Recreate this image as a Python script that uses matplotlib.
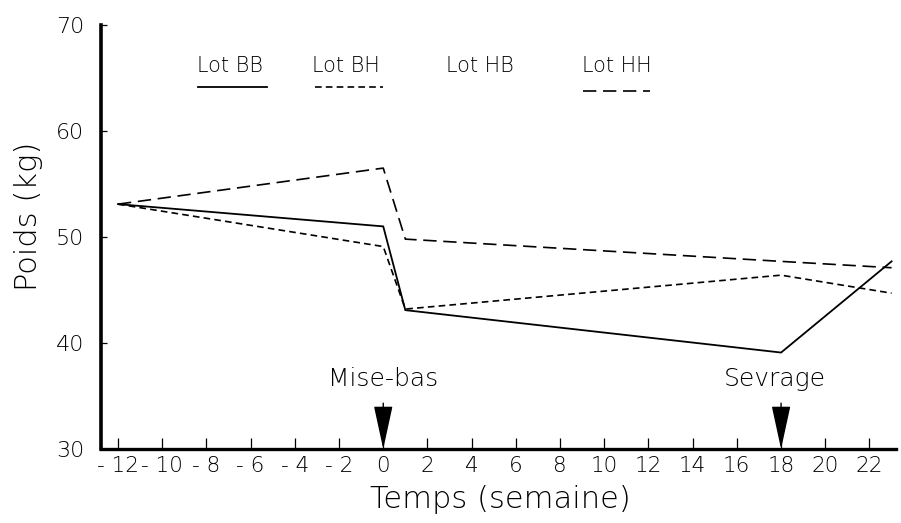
import matplotlib
matplotlib.use("Agg")
import matplotlib.pyplot as plt

# Weight of ewes (kg) over time (weeks) relative to lambing
weeks = [-12, 0, 1, 18, 23]
lot_bb = [53.1, 51.0, 43.1, 39.1, 47.7]
lot_bh = [53.1, 49.1, 43.2, 46.4, 44.7]
lot_hh = [53.1, 56.5, 49.8, 47.7, 47.1]

legend_labels = ["Lot BB", "Lot BH", "Lot HB", "Lot HH"]
event_weeks = [0, 18]
event_labels = ["Mise-bas", "Sevrage"]

x_ticks = list(range(-12, 23, 2))
x_ticklabels = [f"- {abs(t)}" if t < 0 else str(t) for t in x_ticks]
y_ticks = [30, 40, 50, 60, 70]

weight = "light"
plt.rcParams["font.family"] = ["DejaVu Sans"]

fig = plt.figure(figsize=(9.01, 5.23), dpi=100)
ax = fig.add_axes([101 / 901, 74 / 523, 795 / 901, 424 / 523])

ax.plot(weeks, lot_bb, color="black", lw=1.3, solid_joinstyle="miter")
ax.plot(weeks, lot_bh, color="black", lw=1.2, dashes=(4, 2.5))
ax.plot(weeks, lot_hh, color="black", lw=1.2, dashes=(8, 4))

ax.set_xlim(-12.77, 23.2)
ax.set_ylim(30, 70)

for s in ("top", "right"):
    ax.spines[s].set_visible(False)
ax.spines["left"].set_linewidth(2.6)
ax.spines["bottom"].set_linewidth(2.4)

ax.set_xticks(x_ticks)
ax.set_xticklabels(x_ticklabels, fontsize=15.5, fontweight=weight)
ax.set_yticks(y_ticks)
ax.set_yticklabels([str(v) for v in y_ticks], fontsize=16, fontweight=weight)
ax.tick_params(axis="x", direction="in", length=8, width=0.9, pad=5)
ax.tick_params(axis="y", direction="in", length=4, width=0.9, pad=12)

# Legend drawn by hand: labels with line samples beneath
tx = [0.162, 0.308, 0.477, 0.649]
samples = {
    "Lot BB": dict(x=(0.122, 0.209), y=0.854, style=dict(lw=1.3)),
    "Lot BH": dict(x=(0.269, 0.355), y=0.854, style=dict(lw=1.2, dashes=(4, 2.5))),
    "Lot HH": dict(x=(0.606, 0.691), y=0.844, style=dict(lw=1.2, dashes=(8, 4))),
}
for lab, x in zip(legend_labels, tx):
    ax.text(x, 0.903, lab, transform=ax.transAxes, ha="center", va="center",
            fontsize=15, fontweight=weight)
    if lab in samples:
        s = samples[lab]
        ax.plot(s["x"], [s["y"], s["y"]], color="black", transform=ax.transAxes,
                clip_on=False, **s["style"])

# Event markers
text_x = [0, 17.7]
for ev, lab, tx_ in zip(event_weeks, event_labels, text_x):
    ax.annotate("", xy=(ev, 30), xytext=(0, 33), textcoords="offset points",
                xycoords="data",
                arrowprops=dict(arrowstyle="-|>,head_length=2.3,head_width=0.5",
                                color="black", lw=1.0, shrinkA=0, shrinkB=0,
                                mutation_scale=12))
    ax.text(tx_, 35.9, lab, ha="center", va="baseline", fontsize=18,
            fontweight=weight)

fig.text(29 / 901, 1 - 216 / 523, "Poids (kg)", rotation=90, ha="center",
         va="center", fontsize=22, fontweight=weight)
fig.text(500 / 901, 1 - 500 / 523, "Temps (semaine)", ha="center", va="center",
         fontsize=22, fontweight=weight)

fig.savefig("out.png", dpi=100)
